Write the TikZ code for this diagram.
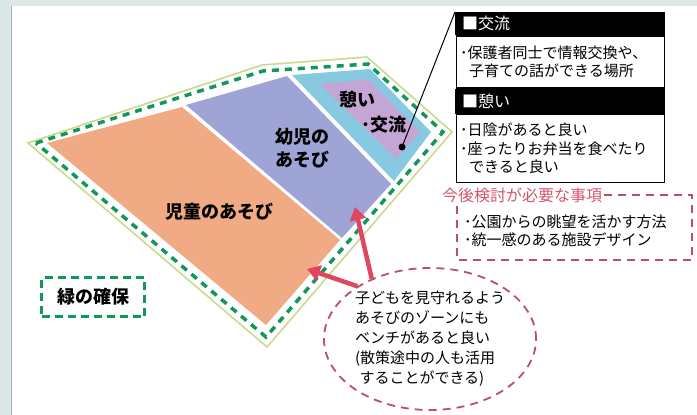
\documentclass[tikz,border=0pt]{standalone}
\usepackage{fontspec}
\setmainfont{Noto Sans CJK JP}
\usetikzlibrary{positioning,shapes.geometric,arrows.meta}

\definecolor{khung}{HTML}{DCE8E8}
\definecolor{vienxam}{HTML}{9FB0B0}
\definecolor{cam}{HTML}{F0AA84}
\definecolor{tim}{HTML}{9EA4D6}
\definecolor{lam}{HTML}{86C9E0}
\definecolor{hong}{HTML}{C4A6D4}
\definecolor{xanhla}{HTML}{13965A}
\definecolor{vienngoai}{HTML}{C9DB8F}
\definecolor{muido}{HTML}{E0475E}
\definecolor{hongdo}{HTML}{D4566E}
\definecolor{vienod}{HTML}{B9506A}

\begin{document}
\begin{tikzpicture}[x=1pt, y=-1pt, >=latex,
    nhan/.style={font=\fontsize{18}{23}\selectfont\bfseries, align=left, inner sep=0pt},
    tieude/.style={fill=black, text=white, minimum width=210pt, minimum height=23pt,
        text width=196pt, inner xsep=7pt, inner ysep=0pt, align=left,
        font=\fontsize{16}{19}\selectfont},
    noidung/.style={draw=black, line width=1.3pt, fill=white, text width=200pt,
        inner xsep=4pt, inner ysep=0pt, align=left, font=\fontsize{15}{18.5}\selectfont},
    muiten/.style={draw=muido, line width=4.5pt, -{Triangle[length=13pt,width=16pt]}},
    netdo/.style={draw=vienod, line width=1.8pt, dash pattern=on 8pt off 6pt},
    netxanh/.style={draw=xanhla, line width=3.5pt, dash pattern=on 7pt off 6pt}]
    % 1. Khung nen
    \useasboundingbox (0,0) rectangle (697,415);
    \fill[khung] (0,0) rectangle (697,415);
    \fill[white] (12,6) rectangle (697,415);
    \draw[vienxam, line width=1pt] (11.5,6) -- (11.5,415);

    % 2. Cac vung cua cong vien
    \fill[cam] (47,143) -- (182,107) -- (340,240) -- (266,325) -- cycle;
    \fill[tim] (186,105) -- (287,76) -- (391,184) -- (342,238) -- cycle;
    \fill[lam] (292,75) -- (370,69) -- (431,132) -- (394,181) -- cycle;
    \fill[hong] (320,84) -- (368,79) -- (420,132) -- (396,159) -- cycle;

    % 3. Vien ngoai va net dut xanh
    \draw[vienngoai, line width=1.6pt] (28,143) -- (262,65) -- (367,57) -- (452,132) -- (267,347) -- cycle;
    \draw[netxanh] (36,143) -- (263,71) -- (368,64) -- (443,132) -- (266,337) -- cycle;

    % 4. Nhan cac vung
    \node[nhan] (treem) at (219,212) {児童のあそび};
    \node[nhan] (mamnon) at (302,148) {幼児の\\あそび};
    \node[nhan] (nghi) at (357,100) {憩い};
    \node[nhan] (giaoluu) at (384,125) {･交流};
    \node[circle, fill=black, inner sep=0pt, minimum size=7pt] (cham) at (402,147) {};

    % 5. Hop chu thich ben phai
    \node[tieude, anchor=north west] (hdrA) at (455,12) {■交流};
    \node[noidung, minimum height=52pt, below=0pt of hdrA] (bodyA)
        {･保護者同士で情報交換や、\\\hspace*{0.6em}子育ての話ができる場所};
    \node[tieude, minimum height=25pt, below=0pt of bodyA] (hdrB) {■憩い};
    \node[noidung, minimum height=68pt, below=0pt of hdrB] (bodyB)
        {･日陰があると良い\\･座ったりお弁当を食べたり\\\hspace*{0.6em}できると良い};
    \draw[line width=1pt] (cham.center) -- (hdrA.north west);

    % 6. Hop net dut do
    \node[anchor=west, text=hongdo, font=\fontsize{16}{19}\selectfont, inner sep=2pt] (ttl) at (440,195) {今後検討が必要な事項};
    \draw[netdo] (ttl.east) -- (692,195) -- (692,260) -- (457,260) -- (457,205);
    \node[anchor=west, align=left, font=\fontsize{15}{18}\selectfont, inner sep=0pt] (vande) at (464,231)
        {･公園からの眺望を活かす方法\\･統一感のある施設デザイン};

    % 7. Ellipse va mui ten
    \node[ellipse, netdo, minimum width=194pt, minimum height=142pt, inner sep=0pt, align=left,
        font=\fontsize{15}{20}\selectfont] (ghe) at (430,339)
        {子どもを見守れるよう\\あそびのゾーンにも\\ベンチがあると良い\\(散策途中の人も活用\\\hspace*{0.3em}することができる)};
    \coordinate (dinhA) at (355,207);
    \coordinate (dinhB) at (307,269);
    \draw[muiten] (ghe.134) -- (dinhA);
    \draw[muiten] (ghe.144) -- (dinhB);

    % 8. O "緑の確保"
    \node[draw=xanhla, line width=3pt, dash pattern=on 8pt off 5pt, minimum width=103pt, minimum height=39pt,
        font=\fontsize{18}{20}\selectfont\bfseries] (xanh) at (93,297) {緑の確保};
\end{tikzpicture}
\end{document}
